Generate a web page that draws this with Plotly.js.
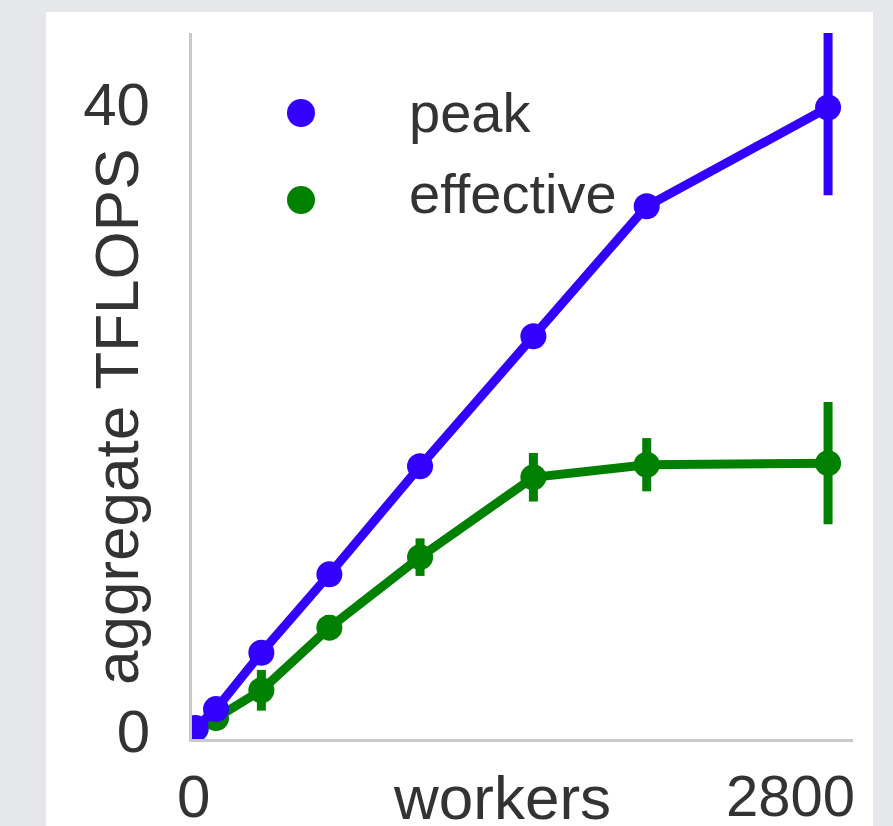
<!DOCTYPE html>
<html>
<head>
<meta charset="utf-8">
<script src="https://cdn.plot.ly/plotly-3.0.1.min.js"></script>
<style>html,body{margin:0;padding:0;background:#e5e7eb;}#chart{width:893px;height:826px;}</style>
</head>
<body>
<div id="chart"></div>
<script>
// Data
const workers = [10, 100, 300, 600, 1000, 1500, 2000, 2800];
const peakTflops = [0.2, 1.4, 5.0, 10.0, 16.9, 25.2, 33.5, 39.8];
const peakErr = [0.1, 0.3, 0.3, 0.4, 0.4, 0.5, 0.6, 5.6];
const effectiveTflops = [0.12, 0.83, 2.6, 6.6, 11.1, 16.2, 17.0, 17.1];
const effectiveErr = [0.1, 0.4, 1.3, 0.8, 1.2, 1.55, 1.7, 3.9];
const seriesNames = ['peak', 'effective'];
const seriesColors = ['#3300ff', '#008000'];
const yTickVals = [0, 40];
const yTickText = ['0', '40'];
const xLabels = ['0', 'workers', '2800'];
const yTitle = 'aggregate TFLOPS';

const FONT = '"Liberation Sans", Arial, Helvetica, sans-serif';
const textColor = '#333333';

function series(y, err, i) {
  return {
    x: workers, y: y, name: seriesNames[i], type: 'scatter', mode: 'lines+markers',
    showlegend: false,
    line: {color: seriesColors[i], width: 9},
    marker: {color: seriesColors[i], size: 26},
    error_y: {type: 'data', array: err, visible: true, color: seriesColors[i], thickness: 9, width: 0},
    hoverinfo: 'x+y+name'
  };
}
const traces = [
  series(effectiveTflops, effectiveErr, 1),
  series(peakTflops, peakErr, 0)
];

// plot area: x 192..853, y 33..739
const L = 192, R = 853, T = 33, B = 739;
const W = R - L, H = B - T;
const px = v => (v - L) / W;
const py = v => (B - v) / H;

const annotations = [];
// x labels row
const xLabelPx = [193.5, 501.5, 790];
const xLabelSize = [60, 62, 58];
xLabels.forEach((t, i) => annotations.push({
  text: t, xref: 'paper', yref: 'paper', x: px(xLabelPx[i]), y: 0,
  xanchor: 'center', yanchor: 'top', yshift: -22, showarrow: false,
  font: {family: FONT, size: xLabelSize[i], color: textColor}
}));
// y title
annotations.push({
  text: yTitle, xref: 'paper', yref: 'paper', x: px(116), y: py(417),
  xanchor: 'center', yanchor: 'middle', textangle: -90, showarrow: false,
  font: {family: FONT, size: 62, color: textColor}
});
// legend texts
const legendTextY = [112, 193];
seriesNames.forEach((n, i) => annotations.push({
  text: n, xref: 'paper', yref: 'paper', x: px(407), y: py(legendTextY[i]),
  xanchor: 'left', yanchor: 'middle', showarrow: false,
  font: {family: FONT, size: 56, color: textColor}
}));

const shapes = [
  {type: 'rect', xref: 'paper', yref: 'paper', x0: px(46), x1: px(873), y0: py(840), y1: py(12),
   fillcolor: '#ffffff', line: {width: 0}, layer: 'below'}
];
const legendDotY = [113, 200];
seriesColors.forEach((c, i) => shapes.push({
  type: 'circle', xref: 'paper', yref: 'paper', xsizemode: 'pixel', ysizemode: 'pixel',
  xanchor: px(301), yanchor: py(legendDotY[i]), x0: -14, x1: 14, y0: -14, y1: 14,
  fillcolor: c, line: {width: 0}
}));

const layout = {
  width: 893, height: 826,
  margin: {l: L, r: 893 - R, t: T, b: 826 - B, pad: 0},
  paper_bgcolor: '#e5e7eb',
  plot_bgcolor: 'rgba(0,0,0,0)',
  showlegend: false,
  xaxis: {
    range: [-6, 2910], showgrid: false, zeroline: false,
    showline: true, linecolor: '#c9c9c9', linewidth: 3,
    showticklabels: false, ticks: ''
  },
  yaxis: {
    range: [-0.51, 44.56], showgrid: false, zeroline: false,
    showline: true, linecolor: '#c9c9c9', linewidth: 3,
    tickvals: yTickVals, ticktext: yTickText, ticks: '',
    ticklabelstandoff: 27,
    tickfont: {family: FONT, size: 60, color: textColor}
  },
  annotations: annotations,
  shapes: shapes
};

Plotly.newPlot('chart', traces, layout, {displayModeBar: false, staticPlot: true});
</script>
</body>
</html>
